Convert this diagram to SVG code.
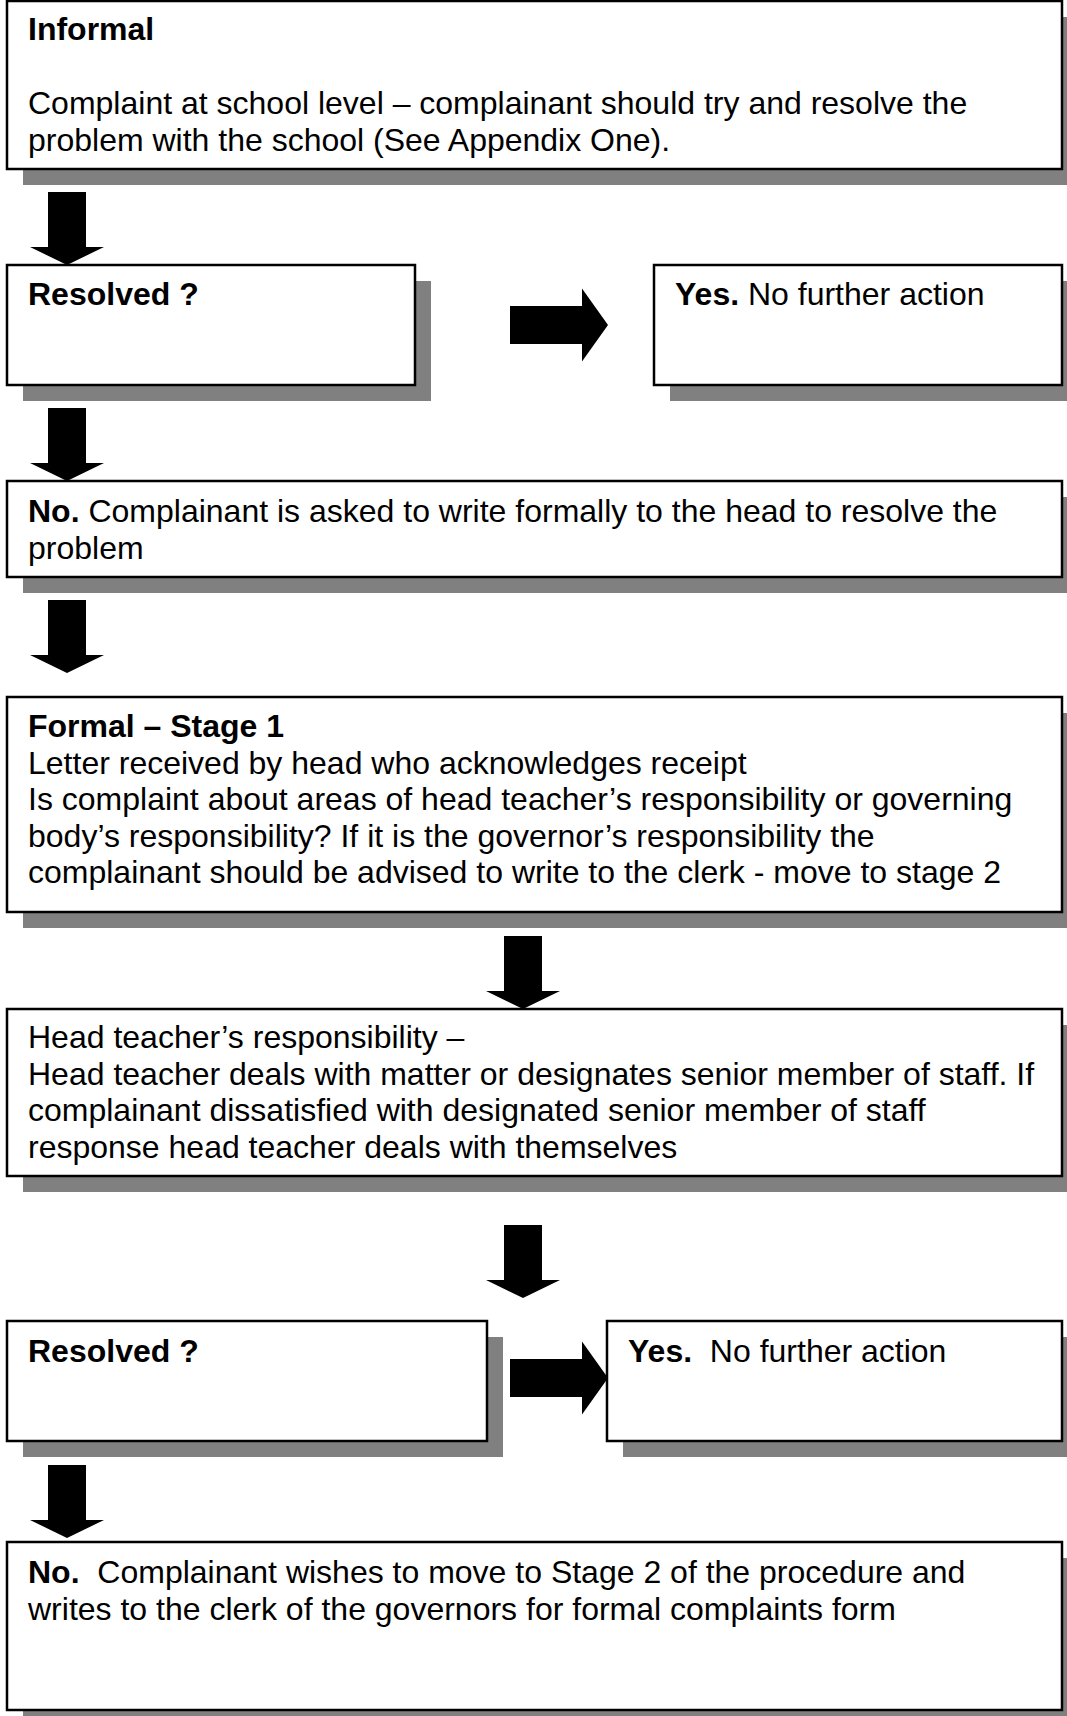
<svg xmlns="http://www.w3.org/2000/svg" width="1067" height="1716" viewBox="0 0 1067 1716">
<style>
.box{fill:#fff;stroke:#000;stroke-width:2.5}
.sh{fill:#808080}
.t{font-family:"Liberation Sans",Arial,sans-serif;font-size:32px;fill:#000;white-space:pre}
.b{font-weight:bold}
.arr{fill:#000}
</style>
<defs>
<polygon id="down" points="-19,0 19,0 19,55 37,55 0,73 -37,55 -19,55"/>
<polygon id="right" points="0,-19 72,-19 72,-36.5 98,0 72,36.5 72,19 0,19"/>
</defs>
<rect width="1067" height="1716" fill="#fff"/>

<g id="informal">
<rect class="sh" x="23" y="17" width="1060" height="168"/>
<rect class="box" x="7" y="1" width="1055" height="168"/>
<text class="t" x="28" y="40"><tspan class="b">Informal</tspan></text>
<text class="t" x="28" y="114">Complaint at school level – complainant should try and resolve the</text>
<text class="t" x="28" y="150.5">problem with the school (See Appendix One).</text>
</g>

<g id="resolved1">
<rect class="sh" x="23" y="281" width="408" height="120"/>
<rect class="box" x="7" y="265" width="408" height="120"/>
<text class="t" x="28" y="305"><tspan class="b">Resolved ?</tspan></text>
</g>

<g id="yes1">
<rect class="sh" x="670" y="281" width="408" height="120"/>
<rect class="box" x="654" y="265" width="408" height="120"/>
<text class="t" x="675" y="305"><tspan class="b">Yes.</tspan> No further action</text>
</g>

<g id="no1">
<rect class="sh" x="23" y="497" width="1060" height="96"/>
<rect class="box" x="7" y="481" width="1055" height="96"/>
<text class="t" x="28" y="522"><tspan class="b">No.</tspan> Complainant is asked to write formally to the head to resolve the</text>
<text class="t" x="28" y="558.5">problem</text>
</g>

<g id="formal">
<rect class="sh" x="23" y="713" width="1060" height="215"/>
<rect class="box" x="7" y="697" width="1055" height="215"/>
<text class="t" x="28" y="737"><tspan class="b">Formal – Stage 1</tspan></text>
<text class="t" x="28" y="773.5">Letter received by head who acknowledges receipt</text>
<text class="t" x="28" y="810">Is complaint about areas of head teacher’s responsibility or governing</text>
<text class="t" x="28" y="846.5">body’s responsibility? If it is the governor’s responsibility the</text>
<text class="t" x="28" y="883">complainant should be advised to write to the clerk - move to stage 2</text>
</g>

<g id="headteacher">
<rect class="sh" x="23" y="1025" width="1060" height="167"/>
<rect class="box" x="7" y="1009" width="1055" height="167"/>
<text class="t" x="28" y="1048">Head teacher’s responsibility –</text>
<text class="t" x="28" y="1084.5">Head teacher deals with matter or designates senior member of staff. If</text>
<text class="t" x="28" y="1121">complainant dissatisfied with designated senior member of staff</text>
<text class="t" x="28" y="1157.5">response head teacher deals with themselves</text>
</g>

<g id="resolved2">
<rect class="sh" x="23" y="1337" width="480" height="120"/>
<rect class="box" x="7" y="1321" width="480" height="120"/>
<text class="t" x="28" y="1362"><tspan class="b">Resolved ?</tspan></text>
</g>

<g id="yes2">
<rect class="sh" x="623" y="1337" width="455" height="120"/>
<rect class="box" x="607" y="1321" width="455" height="120"/>
<text class="t" x="628" y="1362"><tspan class="b">Yes.</tspan>  No further action</text>
</g>

<g id="no2">
<rect class="sh" x="23" y="1558" width="1060" height="168"/>
<rect class="box" x="7" y="1542" width="1055" height="168"/>
<text class="t" x="28" y="1583"><tspan class="b">No.</tspan>  Complainant wishes to move to Stage 2 of the procedure and</text>
<text class="t" x="28" y="1619.5">writes to the clerk of the governors for formal complaints form</text>
</g>

<g id="connectors" class="arr">
<use href="#down" x="67" y="192"/>
<use href="#right" x="510" y="325"/>
<use href="#down" x="67" y="408"/>
<use href="#down" x="67" y="600"/>
<use href="#down" x="523" y="936"/>
<use href="#down" x="523" y="1225"/>
<use href="#right" x="510" y="1378"/>
<use href="#down" x="67" y="1465"/>
</g>
</svg>
